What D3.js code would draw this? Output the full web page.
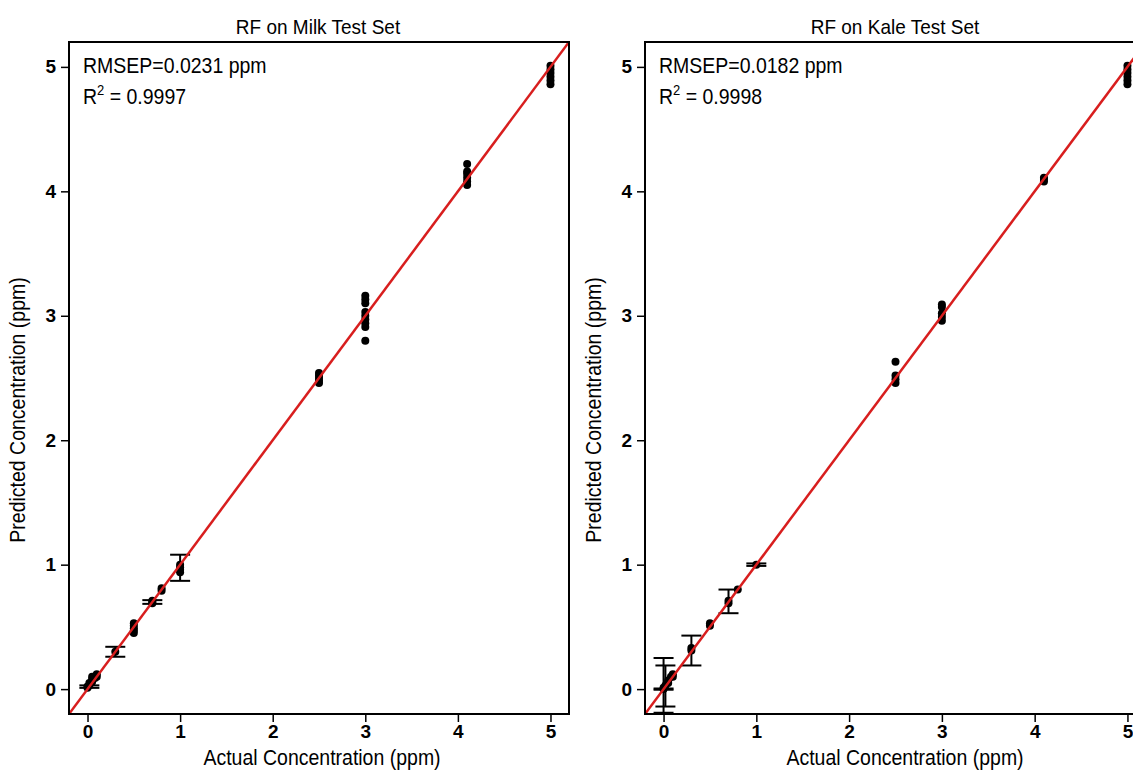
<!DOCTYPE html>
<html>
<head>
<meta charset="utf-8">
<script src="https://cdn.jsdelivr.net/npm/d3@7"></script>
<style>
  body { margin: 0; background: #fff; }
  svg { display: block; font-family: "Liberation Sans", Arial, sans-serif; }
</style>
</head>
<body>
<svg width="1133" height="770"></svg>
<script>
// tick labels
var ticks = [0, 1, 2, 3, 4, 5];

// RF on Milk: actual levels and predicted replicates
var milkX = [0, 0.02, 0.05, 0.08, 0.1, 0.3, 0.5, 0.7, 0.8, 1, 2.5, 3, 4.1, 5];
var milkY = [
  [0.01, 0.02], [0.03, 0.05], [0.06, 0.08, 0.1], [0.1, 0.09], [0.12, 0.1],
  [0.3], [0.45, 0.47, 0.49, 0.51, 0.53], [0.69, 0.7, 0.71], [0.79, 0.81],
  [0.94, 0.96, 0.98, 1.0], [2.46, 2.48, 2.5, 2.52, 2.54],
  [2.8, 2.91, 2.94, 2.97, 3.0, 3.03, 3.1, 3.13, 3.16],
  [4.05, 4.08, 4.11, 4.14, 4.16, 4.22],
  [4.86, 4.89, 4.92, 4.95, 4.98, 5.01]
];
var milkErrX  = [0.02, 0.3, 0.7, 1];
var milkErrLo = [0.01, 0.26, 0.685, 0.87];
var milkErrHi = [0.03, 0.34, 0.715, 1.08];

// RF on Kale
var kaleX = [0, 0.02, 0.05, 0.08, 0.1, 0.3, 0.5, 0.7, 0.8, 1, 2.5, 3, 4.1, 5];
var kaleY = [
  [0, 0.01], [0.03], [0.05, 0.07], [0.1], [0.12, 0.1],
  [0.31, 0.33], [0.51, 0.53], [0.69, 0.71], [0.8], [1.0],
  [2.46, 2.49, 2.52, 2.63], [2.96, 2.99, 3.02, 3.07, 3.09],
  [4.08, 4.1, 4.11], [4.86, 4.89, 4.92, 4.95, 4.98, 5.01]
];
var kaleErrX  = [0, 0.02, 0, 0.3, 0.7, 1];
var kaleErrLo = [-0.19, -0.14, -0.005, 0.19, 0.61, 0.99];
var kaleErrHi = [0.25, 0.19, 0.005, 0.43, 0.8, 1.01];

var svg = d3.select("svg");

var panels = [
  {title: "RF on Milk Test Set", rmsep: "RMSEP=0.0231 ppm", r2: "0.9997",
   xs: milkX, ys: milkY, ex: milkErrX, elo: milkErrLo, ehi: milkErrHi,
   left: 69, right: 569, titleX: 318, labelX: 322},
  {title: "RF on Kale Test Set", rmsep: "RMSEP=0.0182 ppm", r2: "0.9998",
   xs: kaleX, ys: kaleY, ex: kaleErrX, elo: kaleErrLo, ehi: kaleErrHi,
   left: 645, right: 1146, titleX: 895, labelX: 905}
];

var plotTop = 42, plotBottom = 714;

// text in the source figure is a little taller than wide
function stretched(sel, x, y, sy) {
  return sel.append("g")
    .attr("transform", "translate(" + x + "," + y + ") scale(1," + sy + ")")
    .append("text");
}

panels.forEach(function(p) {
  var x = d3.scaleLinear().domain([-0.2, 5.2]).range([p.left, p.right]);
  var y = d3.scaleLinear().domain([-0.2, 5.2]).range([plotBottom, plotTop]);
  var g = svg.append("g");

  // flatten points
  var pts = [];
  p.xs.forEach(function(v, i) {
    p.ys[i].forEach(function(w) { pts.push({x: v, y: w}); });
  });

  // axes
  var xa = g.append("g")
      .attr("transform", "translate(0," + plotBottom + ")")
      .call(d3.axisBottom(x).tickValues(ticks).tickSize(8).tickPadding(3).tickFormat(d3.format("d")));
  var ya = g.append("g")
      .attr("transform", "translate(" + p.left + ",0)")
      .call(d3.axisLeft(y).tickValues(ticks).tickSize(8).tickPadding(5).tickFormat(d3.format("d")));
  [xa, ya].forEach(function(a) {
    a.select(".domain").remove();
    a.selectAll("line").attr("stroke", "#000").attr("stroke-width", 1.5);
    a.selectAll("text").attr("fill", "#000")
      .style("font-size", "19px").style("font-weight", "bold")
      .style("font-family", "'Liberation Sans', Arial, sans-serif");
  });

  // clip to frame
  var cid = "clip" + p.left;
  g.append("clipPath").attr("id", cid)
    .append("rect").attr("x", p.left).attr("y", plotTop)
    .attr("width", p.right - p.left).attr("height", plotBottom - plotTop);

  var inner = g.append("g").attr("clip-path", "url(#" + cid + ")");

  // points
  inner.selectAll("circle.pt").data(pts).enter().append("circle")
    .attr("class", "pt")
    .attr("cx", function(d) { return x(d.x); })
    .attr("cy", function(d) { return y(d.y); })
    .attr("r", 4)
    .attr("fill", "#000");

  // error bars
  var errs = p.ex.map(function(v, i) { return {x: v, lo: p.elo[i], hi: p.ehi[i]}; });
  var eb = inner.selectAll("g.err").data(errs).enter().append("g").attr("class", "err")
    .attr("stroke", "#000").attr("stroke-width", 2);
  eb.append("line")
    .attr("x1", function(d) { return x(d.x); }).attr("x2", function(d) { return x(d.x); })
    .attr("y1", function(d) { return y(d.lo); }).attr("y2", function(d) { return y(d.hi); });
  eb.append("line")
    .attr("x1", function(d) { return x(d.x) - 10; }).attr("x2", function(d) { return x(d.x) + 10; })
    .attr("y1", function(d) { return y(d.lo); }).attr("y2", function(d) { return y(d.lo); });
  eb.append("line")
    .attr("x1", function(d) { return x(d.x) - 10; }).attr("x2", function(d) { return x(d.x) + 10; })
    .attr("y1", function(d) { return y(d.hi); }).attr("y2", function(d) { return y(d.hi); });

  // y = x reference line
  inner.append("path")
    .datum([-0.2, 5.2])
    .attr("d", d3.line().x(function(d) { return x(d); }).y(function(d) { return y(d); }))
    .attr("stroke", "#d81e1e")
    .attr("stroke-width", 2.5)
    .attr("fill", "none");

  // frame
  g.append("rect")
    .attr("x", p.left).attr("y", plotTop)
    .attr("width", p.right - p.left).attr("height", plotBottom - plotTop)
    .attr("fill", "none").attr("stroke", "#000").attr("stroke-width", 2);

  stretched(g, p.titleX, 34, 1.1)
    .attr("text-anchor", "middle")
    .style("font-size", "19px")
    .text(p.title);

  stretched(g, x(-0.2) + 14, 73, 1.1)
    .style("font-size", "19.5px")
    .text(p.rmsep);

  var r2 = stretched(g, x(-0.2) + 14, 104, 1.1)
    .style("font-size", "19.5px");
  r2.append("tspan").text("R");
  r2.append("tspan").attr("dy", -8).style("font-size", "13px").text("2");
  r2.append("tspan").attr("dy", 8).text(" = " + p.r2);

  stretched(g, p.labelX, 765, 1.1)
    .attr("text-anchor", "middle")
    .style("font-size", "19.5px")
    .text("Actual Concentration (ppm)");

  g.append("text")
    .attr("transform", "translate(" + (p.left - 44) + "," + 410 + ") rotate(-90) scale(1,1.1)")
    .attr("text-anchor", "middle")
    .style("font-size", "19.5px")
    .text("Predicted Concentration (ppm)");
});
</script>
</body>
</html>
